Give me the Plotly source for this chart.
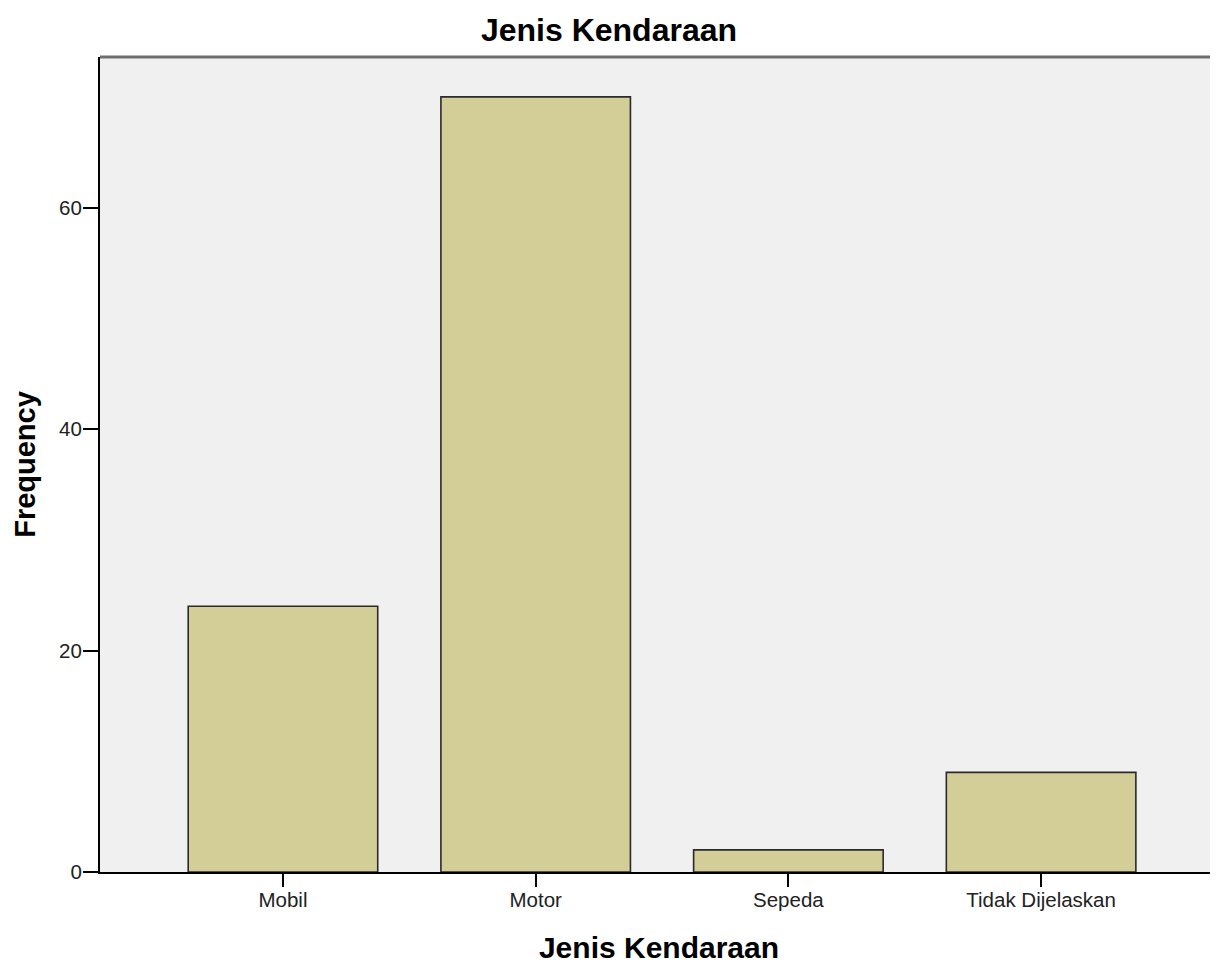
import plotly.graph_objects as go

categories = ["Mobil", "Motor", "Sepeda", "Tidak Dijelaskan"]
frequency = [24, 70, 2, 9]
y_ticks = [0, 20, 40, 60]

FONT = "Liberation Sans, Arial, sans-serif"

# page body adds an 8px margin, so the figure is sized/offset to compensate
W, H = 1210, 956

fig = go.Figure(
    go.Bar(
        x=categories,
        y=frequency,
        marker=dict(color="#D3CE97", line=dict(color="#2a2a2a", width=1.6)),
        hoverinfo="x+y",
    )
)

fig.update_layout(
    width=W,
    height=H,
    margin=dict(l=92, r=0, t=49, b=92),
    paper_bgcolor="white",
    plot_bgcolor="#F0F0F0",
    bargap=0.25,
    showlegend=False,
    title=dict(
        text="Jenis Kendaraan",
        font=dict(family=FONT, size=32, color="black", weight="bold"),
        x=(609 - 8) / W, xanchor="center", xref="container",
        y=1 - 22 / H, yanchor="middle", yref="container",
    ),
    font=dict(family=FONT, color="black"),
)

fig.update_xaxes(
    range=[-0.724, 3.70],
    automargin=False,
    showgrid=False,
    zeroline=False,
    showline=True,
    linecolor="black",
    linewidth=2,
    ticks="outside",
    ticklen=13,
    tickwidth=2,
    tickcolor="black",
    ticklabelstandoff=-5,
    tickfont=dict(family=FONT, size=20.5, color="#222"),
    title=dict(
        text="Jenis Kendaraan",
        font=dict(family=FONT, size=30, color="black", weight="bold"),
        standoff=37,
    ),
)

fig.update_yaxes(
    range=[0, 73.6],
    automargin=False,
    tickvals=y_ticks,
    ticktext=[str(v) for v in y_ticks],
    showgrid=False,
    zeroline=False,
    showline=True,
    linecolor="black",
    linewidth=2,
    ticks="outside",
    ticklen=15,
    tickwidth=2,
    tickcolor="black",
    ticklabelstandoff=-3,
    tickfont=dict(family=FONT, size=20.5, color="#222"),
    title=dict(
        text="Frequency",
        font=dict(family=FONT, size=29, color="black", weight="bold"),
        standoff=15,
    ),
)

fig.add_shape(
    type="line", xref="paper", yref="paper",
    x0=0, x1=1, y0=1, y1=1,
    line=dict(color="#6e6e6e", width=3),
)

fig.write_html("out.html")
